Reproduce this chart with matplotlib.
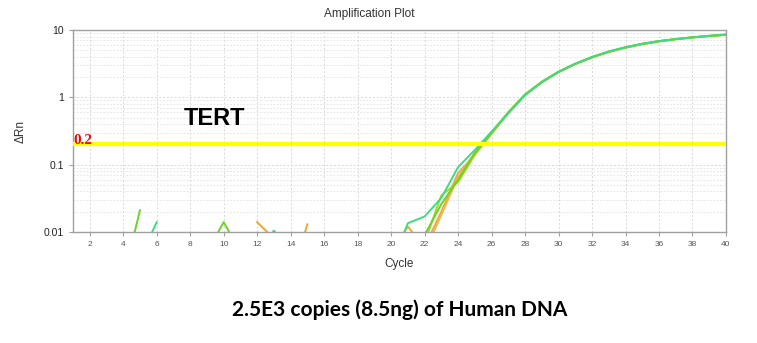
import numpy as np
import matplotlib.pyplot as plt
from matplotlib.ticker import LogLocator, FixedLocator, NullFormatter

nan = np.nan
cycles = np.arange(1, 41)

# delta Rn per well, nan = negative / not plottable on log scale
well_cyan = [nan, nan, nan, nan, 0.004, 0.014, nan, nan, nan, nan,
             nan, 0.005, 0.0105, 0.005, nan, nan, nan, nan, nan, 0.003,
             0.0135, 0.017, 0.032, 0.092, 0.165, 0.31, 0.58, 1.08, 1.68, 2.38,
             3.15, 3.98, 4.8, 5.55, 6.25, 6.85, 7.35, 7.8, 8.2, 8.55]
well_green = [nan, nan, nan, 0.002, 0.021, nan, nan, nan, 0.005, 0.014,
              0.005, nan, nan, nan, nan, nan, nan, nan, nan, nan,
              nan, 0.009, 0.026, 0.06, 0.15, 0.30, 0.6, 1.1, 1.7, 2.4,
              3.15, 3.95, 4.75, 5.5, 6.2, 6.8, 7.3, 7.75, 8.15, 8.5]
well_orange = [nan, nan, nan, nan, nan, nan, nan, nan, nan, nan,
               nan, 0.014, 0.008, 0.002, 0.013, nan, nan, nan, nan, 0.005,
               0.012, 0.006, 0.02, 0.075, 0.14, 0.29, 0.58, 1.08, 1.66, 2.36,
               3.1, 3.9, 4.7, 5.45, 6.15, 6.75, 7.3, 7.75, 8.15, 8.45]
well_ygreen = [nan, nan, nan, nan, nan, nan, nan, nan, nan, nan,
               nan, nan, nan, nan, nan, nan, nan, nan, nan, nan,
               nan, 0.007, 0.035, 0.055, 0.14, 0.29, 0.59, 1.1, 1.7, 2.4,
               3.15, 3.95, 4.8, 5.55, 6.25, 6.85, 7.35, 7.8, 8.2, 8.6]
well_orange2 = [nan, nan, nan, nan, nan, nan, nan, nan, nan, nan,
                nan, nan, nan, nan, nan, nan, nan, nan, nan, nan,
                nan, 0.005, 0.018, 0.065, 0.15, 0.3, 0.6, 1.1, 1.7, 2.4,
                3.15, 3.95, 4.75, 5.5, 6.2, 6.8, 7.3, 7.75, 8.15, 8.5]

wells = [well_orange, well_orange2, well_ygreen, well_green, well_cyan]
colors = ['#eba83a', '#f0b848', '#a6d81e', '#6fd12a', '#3ddc84']

threshold = 0.2

plt.rcParams['font.family'] = ['Liberation Sans', 'DejaVu Sans']

fig = plt.figure(figsize=(7.57, 3.43), dpi=100)
ax = fig.add_axes([0.0964, 0.3236, 0.8626, 0.5889])

for vals, c in zip(wells, colors):
    ax.plot(cycles, vals, color=c, lw=1.4)

ax.axhline(threshold, color='#ffff00', lw=3, zorder=5)

ax.set_yscale('log')
ax.set_xlim(1, 40)
ax.set_ylim(0.01, 10)
ax.xaxis.set_major_locator(FixedLocator(np.arange(2, 41, 2)))
ax.yaxis.set_major_locator(FixedLocator([0.01, 0.1, 1, 10]))
ax.set_yticklabels(['0.01', '0.1', '1', '10'])
ax.yaxis.set_minor_locator(LogLocator(subs=np.arange(2, 10)))
ax.yaxis.set_minor_formatter(NullFormatter())

ax.grid(True, which='major', color='#d8d8d8', ls=(0, (2, 2)), lw=0.7)
ax.grid(True, which='minor', axis='y', color='#e0e0e0', ls=(0, (2, 2)), lw=0.6)
ax.set_axisbelow(True)

for s in ax.spines.values():
    s.set_color('#a0a0a0')
    s.set_linewidth(1.0)
ax.tick_params(axis='x', labelsize=6, colors='#a0a0a0', labelcolor='#555555', length=3)
ax.tick_params(axis='y', labelsize=7.5, colors='#a0a0a0', labelcolor='#222222', length=3)
ax.tick_params(which='minor', length=0)

fig.text(369 / 757, 1 - 14 / 343, 'Amplification Plot', fontsize=8.5, color='#333333',
         ha='center', va='center')
ax.set_xlabel('Cycle', fontsize=8.5, color='#333333', labelpad=7)
ax.set_ylabel('\u0394Rn', fontsize=8.5, color='#333333', labelpad=12)

ax.text(0.0, threshold, '0.2', color='#e01010', fontsize=11, fontweight='bold',
        family='Liberation Serif', transform=ax.get_yaxis_transform(),
        va='baseline', ha='left', zorder=6)
fig.text(214 / 757, 1 - 118 / 343, 'TERT', fontsize=17, fontweight='bold',
         ha='center', va='center')

fig.text(400 / 757, 1 - 310 / 343, '2.5E3 copies (8.5ng) of Human DNA', fontsize=15,
         fontweight='bold', family='Lato', ha='center', va='center')

fig.savefig('out.png', dpi=100)
